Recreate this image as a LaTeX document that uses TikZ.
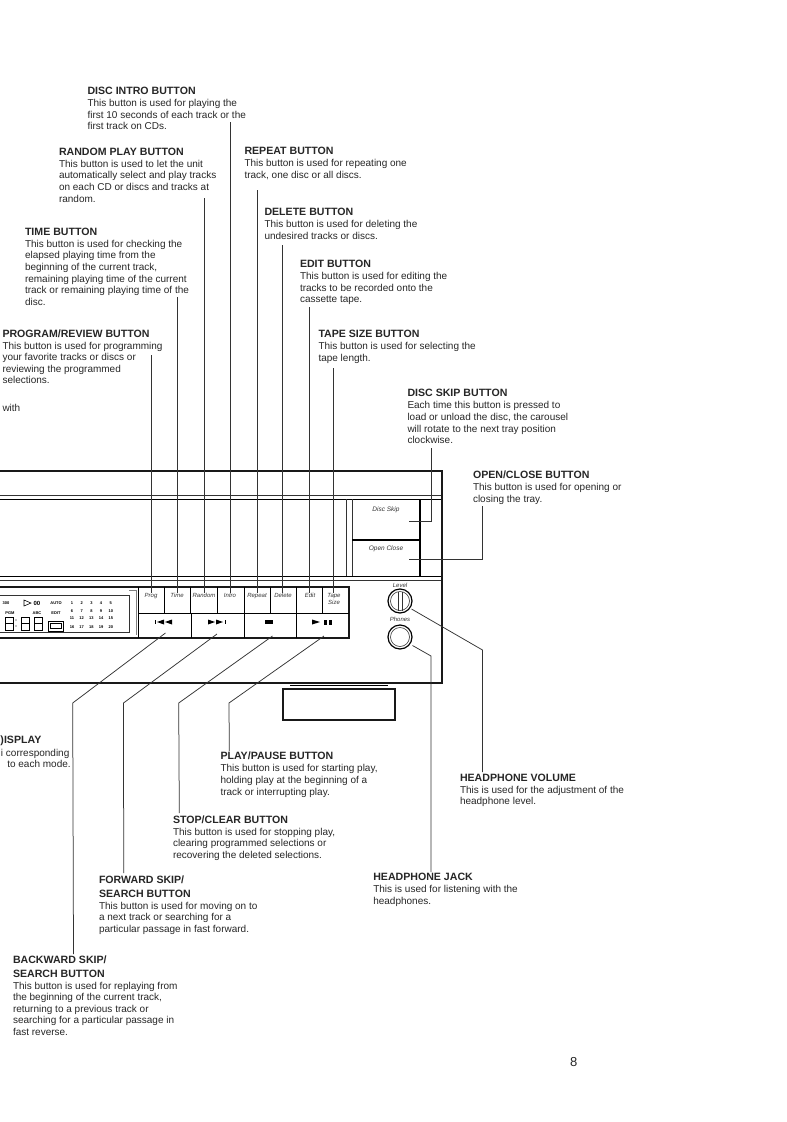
\documentclass[tikz,border=0pt]{standalone}
\usepackage{fontspec}
\setmainfont{Liberation Sans}
\begin{document}
\begin{tikzpicture}[x=1pt,y=-1pt,
 lab/.style={anchor=north west,inner sep=0pt,outer sep=0pt,align=left,font=\fontsize{10}{11.6}\selectfont,text=black!85},
 ln/.style={line width=0.75pt,black!80},
 thk/.style={line width=1.5pt,black!90},
 thn/.style={line width=0.6pt,black!80},
 btn/.style={inner sep=0pt,font=\itshape\fontsize{6}{7}\selectfont,align=center,text=black!80},
 dsp/.style={inner sep=0pt,font=\bfseries\fontsize{4}{4}\selectfont}]
\useasboundingbox (0,0) rectangle (787,1122);
\clip (0,0) rectangle (787,1122);
\newcommand{\hd}[1]{{\fontsize{10.6}{11.6}\selectfont\textbf{#1}}}
\node[lab] (intro) at (87.5,87.2) {\hd{DISC INTRO BUTTON}\\[0.4pt]This button is used for playing the\\first 10 seconds of each track or the\\first track on CDs.};
\node[lab] (random) at (59,147.9) {\hd{RANDOM PLAY BUTTON}\\[0.4pt]This button is used to let the unit\\automatically select and play tracks\\on each CD or discs and tracks at\\random.};
\node[lab] (repeat) at (244.5,147.2) {\hd{REPEAT BUTTON}\\[0.4pt]This button is used for repeating one\\track, one disc or all discs.};
\node[lab] (delete) at (264.5,208.2) {\hd{DELETE BUTTON}\\[0.4pt]This button is used for deleting the\\undesired tracks or discs.};
\node[lab] (time) at (25,227.9) {\hd{TIME BUTTON}\\[0.4pt]This button is used for checking the\\elapsed playing time from the\\beginning of the current track,\\remaining playing time of the current\\track or remaining playing time of the\\disc.};
\node[lab] (edit) at (300,260.2) {\hd{EDIT BUTTON}\\[0.4pt]This button is used for editing the\\tracks to be recorded onto the\\cassette tape.};
\node[lab] (prog) at (2.5,329.5) {\hd{PROGRAM/REVIEW BUTTON}\\[0.4pt]This button is used for programming\\your favorite tracks or discs or\\reviewing the programmed\\selections.};
\node[lab] (tape) at (318.5,330.2) {\hd{TAPE SIZE BUTTON}\\[0.4pt]This button is used for selecting the\\tape length.};
\node[lab] (with) at (2.5,404) {with};
\node[lab] (skip) at (407.5,389.5) {\hd{DISC SKIP BUTTON}\\[0.4pt]Each time this button is pressed to\\load or unload the disc, the carousel\\will rotate to the next tray position\\clockwise.};
\node[lab] (open) at (473,471.2) {\hd{OPEN/CLOSE BUTTON}\\[0.4pt]This button is used for opening or\\closing the tray.};
\node[lab] (disp) at (0.5,735.5) {\hd{)ISPLAY}};
\node[lab] (disp2) at (1,749) {i corresponding};
\node[lab] (disp3) at (7.3,760.5) {to each mode.};
\node[lab] (play) at (220.5,752.2) {\hd{PLAY/PAUSE BUTTON}\\[0.4pt]This button is used for starting play,\\holding play at the beginning of a\\track or interrupting play.};
\node[lab] (vol) at (460,773.9) {\hd{HEADPHONE VOLUME}\\[0.4pt]This is used for the adjustment of the\\headphone level.};
\node[lab] (stop) at (173,815.5) {\hd{STOP/CLEAR BUTTON}\\[0.4pt]This button is used for stopping play,\\clearing programmed selections or\\recovering the deleted selections.};
\node[lab] (jack) at (373.3,873.5) {\hd{HEADPHONE JACK}\\[0.4pt]This is used for listening with the\\headphones.};
\node[lab] (fwd) at (99,875.5) {\hd{FORWARD SKIP/}\\[2.4pt]\hd{SEARCH BUTTON}\\[0.4pt]This button is used for moving on to\\a next track or searching for a\\particular passage in fast forward.};
\node[lab] (back) at (13,955.5) {\hd{BACKWARD SKIP/}\\[2.4pt]\hd{SEARCH BUTTON}\\[0.4pt]This button is used for replaying from\\the beginning of the current track,\\returning to a previous track or\\searching for a particular passage in\\fast reverse.};
\node[lab,font=\fontsize{13}{13}\selectfont] (page) at (570,1057) {8};
% device body
\draw[thk] (0,471) -- (442,471) -- (442,683) -- (0,683);
\draw[thn] (0,495) -- (441,495);
\draw[line width=1pt] (0,499) -- (441,499);
\draw[line width=1pt] (0,576) -- (441,576);
\draw[thn] (0,580) -- (441,580);
\draw[thn] (346,499) -- (346,576);
\draw[thn] (352,499) -- (352,576);
\draw[line width=1.3pt] (420,499) -- (420,576);
\draw[line width=1.3pt] (352,540) -- (420,540);
\node[btn,font=\itshape\fontsize{6.5}{7}\selectfont,anchor=base] (dsk) at (386,511) {Disc Skip};
\node[btn,font=\itshape\fontsize{6.5}{7}\selectfont,anchor=base] (ocl) at (386,550) {Open Close};
% tray
\draw[thk] (283,689) rectangle (395,720);
\draw[line width=1pt] (290,685.5) -- (388,685.5);
% button panel
\draw[thk] (0,587) -- (349,587) -- (349,638) -- (0,638);
\draw[line width=1pt] (138.5,587) -- (138.5,638);
\draw[line width=1pt] (138.5,613) -- (349,613);
\foreach \x in {164,190,217,244,270,296,322} \draw[line width=0.8pt] (\x,587) -- (\x,613);
\foreach \x in {191,244,296} \draw[line width=1pt] (\x,613) -- (\x,638);
\draw[thn] (0,595) -- (129,595) -- (129,632) -- (0,632);
\draw[black!50,line width=0.6pt] (129,590) -- (136,590) -- (136,635);
\node[btn,anchor=base] (bprog) at (151,597.5) {Prog};
\node[btn,anchor=base] (btime) at (177,597.5) {Time};
\node[btn,anchor=base] (brand) at (204,597.5) {Random};
\node[btn,anchor=base] (bintro) at (230,597.5) {Intro};
\node[btn,anchor=base] (brep) at (257,597.5) {Repeat};
\node[btn,anchor=base] (bdel) at (283,597.5) {Delete};
\node[btn,anchor=base] (bedit) at (310,597.5) {Edit};
\node[btn] (btape) at (334,598.5) {Tape\\Size};
% transport icons
\fill (155,620) rectangle +(1,4);
\fill (157,622) -- (164,619.5) -- (164,624.5) -- cycle;
\fill (165,622) -- (172,619.5) -- (172,624.5) -- cycle;
\fill (208,619.5) -- (215,622) -- (208,624.5) -- cycle;
\fill (216,619.5) -- (223,622) -- (216,624.5) -- cycle;
\fill (225,620) rectangle +(1,4);
\fill (265,619.5) rectangle (273,624);
\fill (312,619.5) -- (320,622) -- (312,624.5) -- cycle;
\fill (324,619.5) rectangle +(3,5);
\fill (329,619.5) rectangle +(3,5);
% knobs
\coordinate (lvc) at (400,601);
\coordinate (phc) at (400,637);
\draw[line width=1.2pt] (lvc) circle (12);
\draw[thn] (lvc) circle (9.5);
\draw[thn] (398,591.5) -- (398,610.5) (402,591.5) -- (402,610.5);
\draw[line width=1.2pt] (phc) circle (12);
\draw[thn] (phc) circle (9.5);
\node[btn] (blev) at (400,585.7) {Level};
\node[btn] (bpho) at (400,619) {Phones};
% display
\node[dsp] (d300) at (6,603) {300};
\draw[line width=0.6pt] (24,600) -- (31,603) -- (24,606) -- cycle;
\node[dsp,font=\bfseries\fontsize{6}{6}\selectfont] (d00) at (37,603) {00};
\node[dsp] (dauto) at (56,603) {AUTO};
\node[dsp] (dedit) at (56,613) {EDIT};
\node[dsp] (dpgm) at (10,613) {PGM};
\node[dsp] (dabc) at (37,613) {ABC};
\foreach \i/\n in {0/1,1/2,2/3,3/4,4/5} \node[dsp] at (72+\i*9.7,603) {\n};
\foreach \i/\n in {0/6,1/7,2/8,3/9,4/10} \node[dsp] at (72+\i*9.7,611) {\n};
\foreach \i/\n in {0/11,1/12,2/13,3/14,4/15} \node[dsp] at (72+\i*9.7,618.5) {\n};
\foreach \i/\n in {0/16,1/17,2/18,3/19,4/20} \node[dsp] at (72+\i*9.7,627) {\n};
\foreach \x in {5,21,34} {
 \draw[line width=0.7pt] (\x,617) rectangle +(8,13);
 \draw[line width=0.7pt] (\x,623.5) -- +(8,0);
}
\fill (16,620) circle (0.6) (16,626) circle (0.6);
\draw[line width=0.8pt] (48,621) rectangle (63,631);
\draw[line width=0.5pt] (50,623) rectangle (61,628);
% leaders
\coordinate (a1) at (151.5,355); \coordinate (a2) at (177.7,297); \coordinate (a3) at (204.3,198); \coordinate (a4) at (230.5,122);
\coordinate (a5) at (257,190); \coordinate (a6) at (282.7,245); \coordinate (a7) at (309.7,307); \coordinate (a8) at (333.3,368);
\draw[ln] (a1) -- (bprog.north -| a1);
\draw[ln] (a2) -- (btime.north -| a2);
\draw[ln] (a3) -- (brand.north -| a3);
\draw[ln] (a4) -- (bintro.north -| a4);
\draw[ln] (a5) -- (brep.north -| a5);
\draw[ln] (a6) -- (bdel.north -| a6);
\draw[ln] (a7) -- (bedit.north -| a7);
\draw[ln] (a8) -- (btape.north -| a8);
\draw[ln] (431,448) -- (431,521) -- (409,521);
\draw[ln] (482,506) -- (482,559) -- (409,559);
\draw[ln] (411.5,609) -- (482.5,650) -- (482.5,772);
\draw[ln] (412.5,645.5) -- (431,656) -- (431,872);
\draw[ln] (165.5,633) -- (72.7,703) -- (73.5,954);
\draw[ln] (217,634) -- (123.5,703) -- (123.7,873);
\draw[ln] (272.5,636) -- (178.7,703) -- (179.3,813);
\draw[ln] (324,636) -- (229,703) -- (229.3,751);
\end{tikzpicture}
\end{document}
